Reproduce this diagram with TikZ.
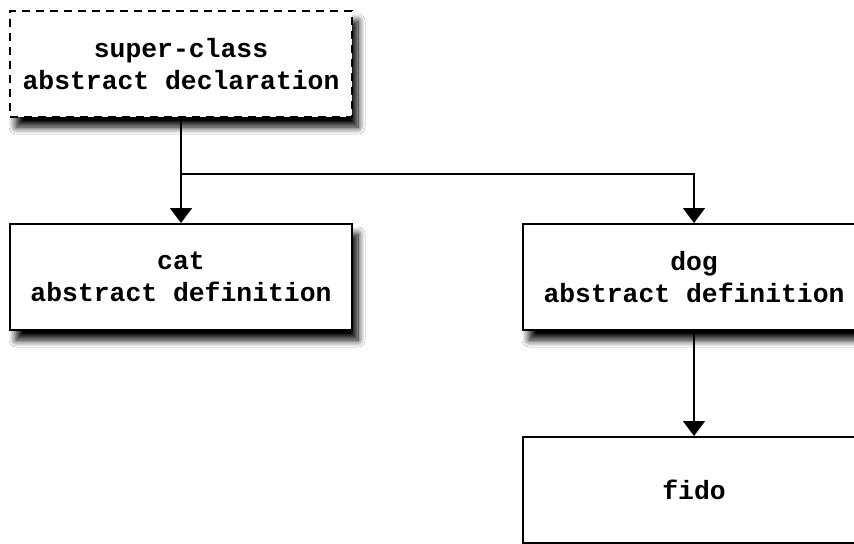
\documentclass[tikz,border=0pt]{standalone}
\usepackage{fontspec}
\setmonofont{Liberation Mono}
\usetikzlibrary{arrows.meta,shadows.blur}
\tikzset{
  px/.style={x=0.5pt,y=-0.5pt},
  box/.style={draw=black, line width=1pt, fill=white, minimum width=171pt, minimum height=53pt,
    align=center, inner sep=0pt, font=\ttfamily\bfseries\fontsize{13.2}{16}\selectfont,
    blur shadow={shadow xshift=3pt, shadow yshift=-5pt, shadow blur radius=3.5pt, shadow blur steps=10, shadow opacity=100}},
  dashbox/.style={box, dash pattern=on 4pt off 3pt},
  conn/.style={draw=black, line width=0.75pt, -{Triangle[width=11pt,length=7.5pt]}},
}
\begin{document}
\begin{tikzpicture}[px]
\useasboundingbox (0,0) rectangle (854,543);
\fill[white] (0,0) rectangle (854,543);
\node[dashbox] (super) at (181,64) {super-class\\abstract declaration};
\node[box] (cat) at (181,277) {cat\\abstract definition};
\node[box] (dog) at (694,277) {dog\\abstract definition};
\node[box] (fido) at (694,490) {fido};
\coordinate (j) at (181,174);
\draw[conn] (super.south) -- (cat.north);
\draw[conn] (j) -| (dog.north);
\draw[conn] (dog.south) -- (fido.north);
\end{tikzpicture}
\end{document}
